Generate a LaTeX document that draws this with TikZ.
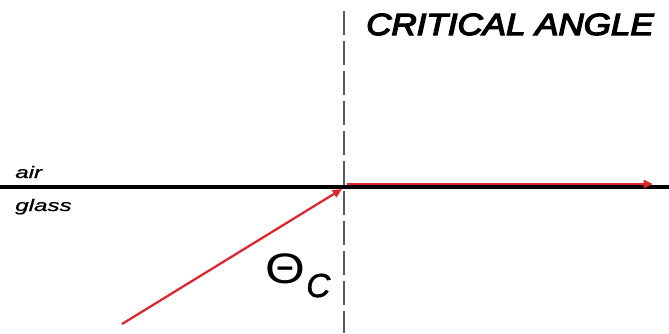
\documentclass[tikz,border=0pt]{standalone}
\usepackage{fontspec}
\usepackage{graphicx}
\setmainfont{Liberation Sans}
\usetikzlibrary{arrows.meta}
\definecolor{raycol}{RGB}{222,38,48}
\definecolor{normalcol}{RGB}{90,90,90}
\begin{document}
\begin{tikzpicture}[x=0.75pt,y=-0.75pt,
  rayline/.style={draw=raycol, line width=1.7pt, -{Triangle[length=7pt,width=6pt]}},
  surface/.style={draw=black, line width=2.4pt},
  normalline/.style={draw=normalcol, line width=1.5pt, dash pattern=on 18pt off 4.5pt},
  lbl/.style={inner sep=0pt, font=\fontsize{12.5}{14}\selectfont\itshape\addfontfeatures{FakeBold=0.8}},
  ttl/.style={inner sep=0pt, font=\fontsize{23}{26}\selectfont\itshape\addfontfeatures{FakeBold=4}}]
\useasboundingbox (0,0) rectangle (669,333);
% coordinates
\coordinate (sl) at (0,187);
\coordinate (sr) at (669,187);
\coordinate (nt) at (344,11);
\coordinate (nb) at (344,333);
\coordinate (rs) at (347,184);
\coordinate (re) at (653,184);
\coordinate (is) at (122,324);
\coordinate (ie) at (342,189);
% lines
\draw[normalline] (nt) -- (nb);
\draw[surface] (sl) -- (sr);
\draw[rayline] (rs) -- (re);
\draw[rayline] (is) -- (ie);
% texts
\node[ttl, anchor=base] (title) at (510,35) {\scalebox{1.14}[1]{CRITICAL ANGLE}};
\node[lbl, anchor=base west] (air) at (15,178) {\scalebox{1.45}[1]{air}};
\node[lbl, anchor=base west] (glass) at (15,211) {\scalebox{1.45}[1]{glass}};
\node[inner sep=0pt, anchor=base west, font=\fontsize{32}{34}\selectfont] (theta) at (265,283) {\scalebox{1.2}[1]{Θ}};
\node[inner sep=0pt, anchor=base west, font=\fontsize{25}{28}\selectfont\itshape\addfontfeatures{FakeBold=1.5}] (csub) at (306,297) {C};
\end{tikzpicture}
\end{document}
